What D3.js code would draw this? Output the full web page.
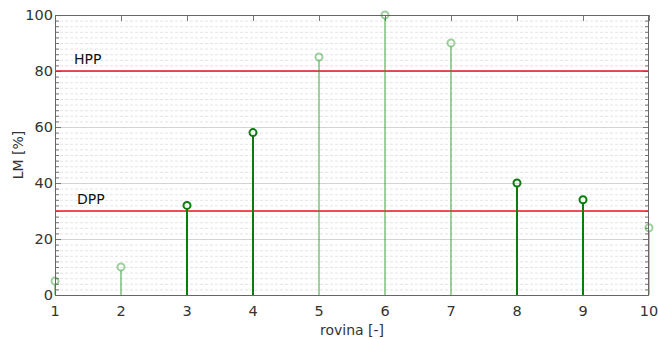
<!DOCTYPE html>
<html>
<head>
<meta charset="utf-8">
<script src="https://cdn.jsdelivr.net/npm/d3@7"></script>
<style>
  body { margin: 0; background: #fff; }
  text { font-family: "DejaVu Sans", sans-serif; }
</style>
</head>
<body>
<div id="chart"></div>
<script>
// data
let rows = [1, 2, 3, 4, 5, 6, 7, 8, 9, 10];
let lmValues = [5, 10, 32, 58, 85, 100, 90, 40, 34, 24];
let limits = [{name: "HPP", value: 80}, {name: "DPP", value: 30}];
let xTicks = [1, 2, 3, 4, 5, 6, 7, 8, 9, 10];
let yTicks = [0, 20, 40, 60, 80, 100];

let width = 658, height = 339;
let margin = {top: 15, right: 9, bottom: 44, left: 55};

let svg = d3.select("#chart").append("svg")
    .attr("width", width)
    .attr("height", height);

let x = d3.scaleLinear().domain([1, 10]).range([margin.left, width - margin.right]);
let y = d3.scaleLinear().domain([0, 100]).range([height - margin.bottom, margin.top]);

let lo = limits.find(d => d.name === "DPP").value;
let hi = limits.find(d => d.name === "HPP").value;

// minor dotted grid every 2 units
let minor = d3.range(0, 101, 2).filter(d => d % 20 !== 0);
svg.append("g").selectAll("line")
    .data(minor)
    .enter().append("line")
    .attr("x1", x(1)).attr("x2", x(10))
    .attr("y1", d => y(d) + 0.5).attr("y2", d => y(d) + 0.5)
    .attr("stroke", "#e4e4e4")
    .attr("stroke-width", 1)
    .attr("stroke-dasharray", "3,2");

// major grid
svg.append("g").selectAll("line")
    .data(yTicks.slice(1, -1))
    .enter().append("line")
    .attr("x1", x(1)).attr("x2", x(10))
    .attr("y1", d => y(d) + 0.5).attr("y2", d => y(d) + 0.5)
    .attr("stroke", "#d4d4d4")
    .attr("stroke-width", 1);

// ticks inside the frame
let tickG = svg.append("g").attr("stroke", "#777");
tickG.selectAll(".ml").data(minor).enter().append("line")
    .attr("x1", x(1)).attr("x2", x(1) + 4)
    .attr("y1", d => y(d) + 0.5).attr("y2", d => y(d) + 0.5);
tickG.selectAll(".mr").data(minor).enter().append("line")
    .attr("x1", x(10) - 4).attr("x2", x(10))
    .attr("y1", d => y(d) + 0.5).attr("y2", d => y(d) + 0.5);
tickG.selectAll(".Ml").data(yTicks).enter().append("line")
    .attr("x1", x(1)).attr("x2", x(1) + 6)
    .attr("y1", d => y(d) + 0.5).attr("y2", d => y(d) + 0.5);
tickG.selectAll(".Mr").data(yTicks).enter().append("line")
    .attr("x1", x(10) - 6).attr("x2", x(10))
    .attr("y1", d => y(d) + 0.5).attr("y2", d => y(d) + 0.5);
tickG.selectAll(".xt").data(xTicks).enter().append("line")
    .attr("x1", d => Math.round(x(d)) + 0.5).attr("x2", d => Math.round(x(d)) + 0.5)
    .attr("y1", y(100)).attr("y2", y(100) + 6);

// limit lines
svg.append("g").selectAll("line")
    .data(limits)
    .enter().append("line")
    .attr("x1", x(1)).attr("x2", x(10))
    .attr("y1", d => y(d.value)).attr("y2", d => y(d.value))
    .attr("stroke", "#e8161b")
    .attr("stroke-width", 1.5);

svg.append("g").selectAll("text")
    .data(limits)
    .enter().append("text")
    .attr("x", d => d.name === "HPP" ? 74 : 77)
    .attr("y", d => y(d.value) - 7)
    .style("font-size", "14px")
    .style("fill", "#111")
    .text(d => d.name);

// stems + markers
let pts = rows.map((r, i) => ({row: r, value: lmValues[i]}));
let inside = d => d.value >= lo && d.value <= hi;
let colorOf = d => inside(d) ? "#0a7d0a" : "rgba(40,150,40,0.45)";

svg.append("g").selectAll("line")
    .data(pts)
    .enter().append("line")
    .attr("x1", d => x(d.row)).attr("x2", d => x(d.row))
    .attr("y1", y(0)).attr("y2", d => y(d.value) + 3.5)
    .attr("stroke", colorOf)
    .attr("stroke-width", 2);

svg.append("g").selectAll("circle")
    .data(pts)
    .enter().append("circle")
    .attr("cx", d => x(d.row))
    .attr("cy", d => y(d.value))
    .attr("r", 3.5)
    .attr("fill", "none")
    .attr("stroke", colorOf)
    .attr("stroke-width", 2);

// frame
svg.append("rect")
    .attr("x", x(1) + 0.5).attr("y", y(100) + 0.5)
    .attr("width", x(10) - x(1) - 1).attr("height", y(0) - y(100))
    .attr("fill", "none")
    .attr("stroke", "#666")
    .attr("stroke-width", 1);

// axes labels
svg.append("g").selectAll("text")
    .data(yTicks)
    .enter().append("text")
    .attr("x", x(1) - 2)
    .attr("y", d => y(d))
    .attr("dy", "0.35em")
    .attr("text-anchor", "end")
    .style("font-size", "14.5px")
    .style("fill", "#333")
    .text(d => d);

svg.append("g").selectAll("text")
    .data(xTicks)
    .enter().append("text")
    .attr("x", d => x(d))
    .attr("y", y(0) + 21)
    .attr("text-anchor", "middle")
    .style("font-size", "14.5px")
    .style("fill", "#333")
    .text(d => d);

svg.append("text")
    .attr("x", (x(1) + x(10)) / 2)
    .attr("y", 335)
    .attr("text-anchor", "middle")
    .style("font-size", "14px")
    .style("fill", "#333")
    .text("rovina [-]");

svg.append("text")
    .attr("transform", "translate(23," + ((y(0) + y(100)) / 2) + ")rotate(-90)")
    .attr("text-anchor", "middle")
    .style("font-size", "14px")
    .style("fill", "#333")
    .text("LM [%]");
</script>
</body>
</html>
